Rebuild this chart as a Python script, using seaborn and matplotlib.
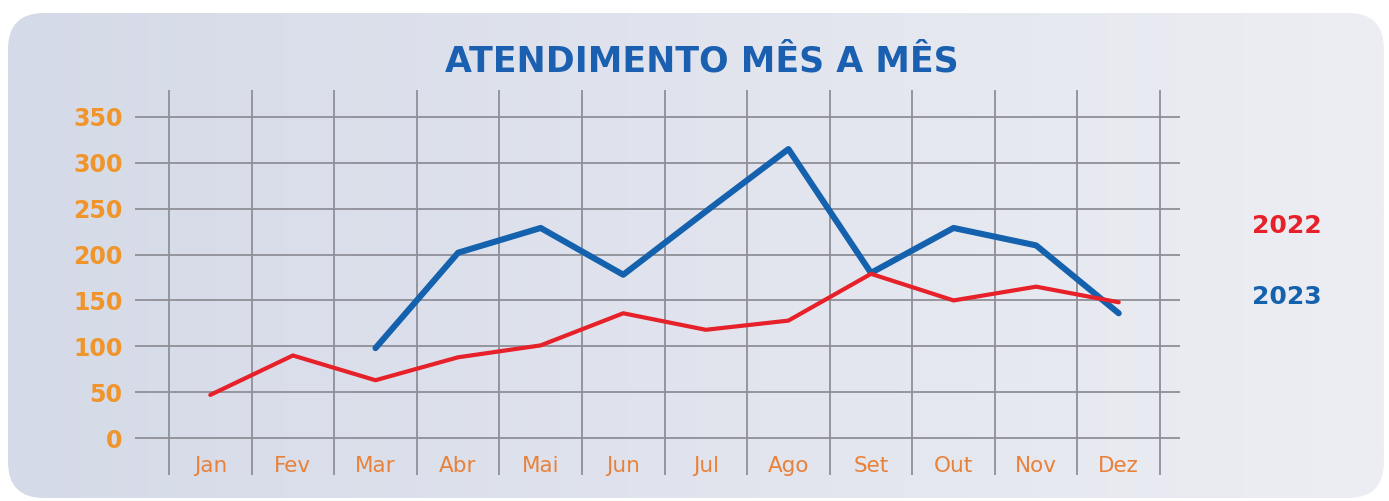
import numpy as np
import pandas as pd
import matplotlib
matplotlib.use("Agg")
import matplotlib.pyplot as plt
from matplotlib.patches import FancyBboxPatch
import seaborn as sns

# ---- data ----
months = ["Jan", "Fev", "Mar", "Abr", "Mai", "Jun", "Jul", "Ago", "Set", "Out", "Nov", "Dez"]
vals_2022 = [47, 90, 63, 88, 101, 136, 118, 128, 179, 150, 165, 148]
months_2023 = ["Mar", "Abr", "Mai", "Jun", "Jul", "Ago", "Set", "Out", "Nov", "Dez"]
vals_2023 = [98, 202, 229, 178, 247, 315, 180, 229, 210, 136]
yticks = [0, 50, 100, 150, 200, 250, 300, 350]
title = "ATENDIMENTO MÊS A MÊS"
series_names = ["2022", "2023"]
series_colors = ["#e62129", "#1461ad"]

rows = []
for m, v in zip(months, vals_2022):
    rows.append({"pos": months.index(m), "valor": v, "ano": "2022"})
for m, v in zip(months_2023, vals_2023):
    rows.append({"pos": months.index(m), "valor": v, "ano": "2023"})
df = pd.DataFrame(rows)

sns.set_theme(style="white")
plt.rcParams['font.family'] = ['DejaVu Sans']

W, H = 1389, 501
fig = plt.figure(figsize=(W / 100, H / 100), dpi=100)
fig.patch.set_facecolor("white")

# background rounded panel with horizontal gradient
bg = fig.add_axes([0, 0, 1, 1], zorder=-5)
bg.set_xlim(0, W)
bg.set_ylim(H, 0)
bg.axis("off")
c1 = np.array([213, 218, 232]) / 255
c2 = np.array([237, 238, 243]) / 255
t = np.linspace(0, 1, 256)[None, :, None]
grad = c1 + (c2 - c1) * t
grad = np.repeat(grad, 2, axis=0)
im = bg.imshow(grad, extent=[8, 1384, 498, 13], aspect="auto", interpolation="bilinear")
box = FancyBboxPatch((8 + 36, 13 + 36), 1376 - 72, 485 - 72,
                     boxstyle="round,pad=36", transform=bg.transData,
                     facecolor="none", edgecolor="none")
bg.add_patch(box)
im.set_clip_path(box)

# main axes
ax = fig.add_axes([135 / W, (H - 475) / H, (1180 - 135) / W, (475 - 90) / H])
ax.set_facecolor("none")
sns.lineplot(data=df, x="pos", y="valor", hue="ano", palette=series_colors,
             hue_order=series_names, ax=ax, legend=False, sort=False,
             solid_capstyle="round")
lines = ax.get_lines()
if len(lines) >= 2:
    lines[0].set_linewidth(3.0)
    lines[1].set_linewidth(4.4)
    lines[1].set_zorder(3)
    lines[0].set_zorder(4)

ax.set_xlim(-0.912, 11.742)
ax.set_ylim(-40.3, 379.4)
ax.set_yticks(yticks)
ax.set_yticklabels([str(v) for v in yticks])
ax.set_xticks(range(len(months)))
ax.set_xticklabels(months)
ax.set_xticks(np.arange(-0.5, 12, 1), minor=True)
ax.grid(False)
ax.grid(True, axis="y", which="major", color="#8e8f97", linewidth=1.3)
ax.grid(True, axis="x", which="minor", color="#8e8f97", linewidth=1.3)
ax.set_xlabel("")
ax.set_ylabel("")
for s in ax.spines.values():
    s.set_visible(False)
ax.tick_params(axis="y", which="both", length=0, pad=9, labelsize=17, labelcolor="#f0952b")
ax.tick_params(axis="x", which="both", length=0, pad=-13.5, labelsize=15.5, labelcolor="#e8813a")
for lbl in ax.get_yticklabels():
    lbl.set_fontweight("bold")

fig.text(701.5 / W, 1 - 62 / H, title, ha="center", va="center",
         fontsize=25, fontweight="bold", color="#1a5fb0")
fig.text(1287 / W, 1 - 226 / H, series_names[0], ha="center", va="center",
         fontsize=18, fontweight="bold", color=series_colors[0])
fig.text(1287 / W, 1 - 297 / H, series_names[1], ha="center", va="center",
         fontsize=18, fontweight="bold", color=series_colors[1])

fig.savefig("out.png", dpi=100)
